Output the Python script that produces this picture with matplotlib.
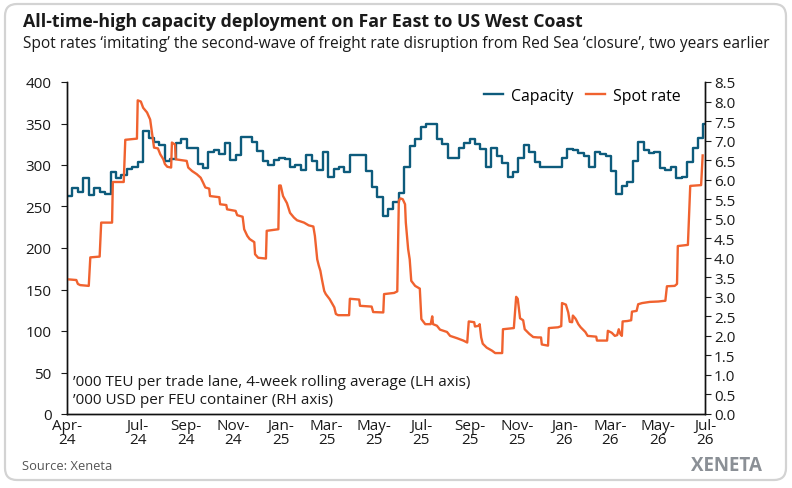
import matplotlib
matplotlib.use("Agg")
import matplotlib.pyplot as plt
from matplotlib.patches import FancyBboxPatch
import numpy as np
import pandas as pd

plt.rcParams['font.family'] = ['Open Sans', 'DejaVu Sans']

# Capacity, '000 TEU, weekly from 1 Apr 2024 (4-week rolling average)
capacity = [263, 272, 267, 284, 264, 272, 268, 265, 291, 284,
            288, 295, 297, 304, 341, 333, 328, 324, 305, 307,
            327, 331, 321, 320, 301, 296, 316, 318, 313, 326,
            306, 312, 334, 334, 328, 317, 305, 300, 306, 308,
            307, 298, 300, 294, 312, 305, 294, 316, 286, 295,
            298, 291, 312, 312, 312, 293, 273, 262, 239, 247,
            256, 266, 298, 323, 331, 346, 350, 350, 331, 325,
            308, 308, 320, 327, 331, 325, 319, 297, 320, 311,
            303, 286, 292, 308, 324, 316, 304, 298, 298, 298,
            298, 309, 319, 318, 314, 311, 298, 316, 313, 311,
            293, 265, 275, 279, 305, 328, 318, 314, 316, 296,
            294, 298, 284, 286, 304, 320, 332, 350]

# Spot rate, '000 USD/FEU, days since 1 Apr 2024
spot_day = [0, 12, 14, 17, 28, 30, 42, 44, 58, 59, 73, 75, 90, 91, 95, 98,
            103, 107, 109, 112, 117, 120, 124, 126, 129, 134, 135, 139, 140,
            154, 156, 161, 167, 172, 175, 178, 183, 184, 196, 197, 205, 206,
            217, 219, 226, 228, 232, 235, 241, 242, 246, 256, 257, 272, 273,
            275, 278, 283, 287, 292, 296, 305, 311, 317, 319, 322, 324, 326,
            328, 331, 333, 338, 344, 346, 349, 363, 364, 376, 377, 392, 394,
            407, 408, 421, 425, 427, 429, 432, 435, 436, 439, 441, 443, 448,
            454, 456, 461, 468, 470, 471, 476, 480, 489, 493, 502, 510, 515,
            517, 524, 525, 530, 531, 533, 535, 540, 547, 551, 560, 561, 575,
            578, 580, 583, 587, 589, 595, 600, 606, 610, 611, 619, 620, 632,
            636, 637, 642, 645, 647, 650, 651, 654, 655, 658, 661, 667, 670,
            681, 682, 695, 696, 701, 705, 708, 710, 712, 714, 715, 721, 726,
            727, 733, 735, 740, 750, 761, 770, 772, 782, 785, 786, 799, 802,
            816, 818]
spot_rate = [3.45, 3.43, 3.33, 3.30, 3.28, 4.01, 4.03, 4.90, 4.90, 5.94, 5.94,
             7.02, 7.05, 8.03, 8.00, 7.84, 7.72, 7.54, 7.25, 6.82, 6.80, 6.65,
             6.52, 6.40, 6.33, 6.31, 6.95, 6.90, 6.52, 6.48, 6.31, 6.22, 6.14,
             6.05, 5.93, 5.80, 5.77, 5.58, 5.55, 5.37, 5.35, 5.24, 5.20, 5.09,
             5.05, 4.73, 4.56, 4.48, 4.40, 4.09, 4.00, 3.98, 4.69, 4.73, 5.85,
             5.85, 5.58, 5.40, 5.15, 5.03, 4.96, 4.90, 4.83, 4.80, 4.56, 3.96,
             3.80, 3.67, 3.45, 3.15, 3.07, 2.94, 2.73, 2.56, 2.53, 2.53, 2.95,
             2.93, 2.77, 2.75, 2.61, 2.60, 3.07, 3.10, 3.14, 5.46, 5.52, 5.50,
             5.37, 4.90, 4.22, 3.96, 3.41, 3.28, 3.21, 2.43, 2.30, 2.30, 2.50,
             2.30, 2.26, 2.16, 2.10, 2.00, 1.94, 1.88, 1.83, 2.37, 2.35, 2.24,
             2.26, 2.30, 1.96, 1.80, 1.70, 1.62, 1.56, 1.56, 2.17, 2.20, 3.00,
             2.95, 2.45, 2.40, 2.17, 2.05, 1.97, 1.96, 1.96, 1.78, 1.75, 2.20,
             2.22, 2.25, 2.84, 2.80, 2.60, 2.36, 2.35, 2.52, 2.45, 2.42, 2.30,
             2.22, 2.10, 2.00, 1.98, 1.88, 1.88, 2.13, 2.08, 2.00, 2.02, 2.17,
             2.05, 2.00, 2.37, 2.38, 2.40, 2.62, 2.64, 2.81, 2.84, 2.87, 2.88,
             2.90, 3.27, 3.28, 3.33, 4.30, 4.33, 5.84, 5.86, 6.62]

tick_months = ['2024-04-01', '2024-07-01', '2024-09-01', '2024-11-01',
               '2025-01-01', '2025-03-01', '2025-05-01', '2025-07-01',
               '2025-09-01', '2025-11-01', '2026-01-01', '2026-03-01',
               '2026-05-01', '2026-07-01']

start = pd.Timestamp('2024-04-01')
cap_dates = pd.date_range(start, periods=len(capacity) + 1, freq='7D')
cap_vals = capacity + [capacity[-1]]
spot_dates = start + pd.to_timedelta(spot_day, unit='D')
ticks = pd.to_datetime(tick_months)
tick_labels = [d.strftime('%b-\n%y') for d in ticks]

blue = '#0d5b7c'
orange = '#f0622f'

fig = plt.figure(figsize=(7.92, 4.89), dpi=100)

# background card + panel, in pixel coordinates
bg = fig.add_axes([0, 0, 1, 1], zorder=-1)
bg.set_xlim(0, 792)
bg.set_ylim(489, 0)
bg.axis('off')
bg.add_patch(FancyBboxPatch((5, 5), 781, 476, boxstyle='round,pad=0,rounding_size=12',
                            fc='white', ec='#d3d3d3', lw=1.6))
grad = np.array([[[0.965, 0.978, 0.992], [0.945, 0.963, 0.984]],
                 [[0.945, 0.963, 0.984], [0.925, 0.948, 0.978]]])
bg.imshow(grad, extent=(25, 764, 451, 67), interpolation='bilinear', aspect='auto')
bg.set_xlim(0, 792)
bg.set_ylim(489, 0)

bg.text(23, 22, 'All-time-high capacity deployment on Far East to US West Coast',
        fontsize=12.8, fontweight='bold', color='#1a1a1a', va='center')
bg.text(23, 44, 'Spot rates \u2018imitating\u2019 the second-wave of freight rate disruption '
        'from Red Sea \u2018closure\u2019, two years earlier',
        fontsize=11.2, color='#1a1a1a', va='center')
bg.text(73, 383, '\u2019000 TEU per trade lane, 4-week rolling average (LH axis)',
        fontsize=11, color='#1a1a1a', va='center')
bg.text(73, 400, '\u2019000 USD per FEU container (RH axis)',
        fontsize=11, color='#1a1a1a', va='center')
bg.text(22, 466, 'Source: Xeneta', fontsize=9.3, color='#555555', va='center')
bg.text(762, 466, 'XENETA', fontsize=13.5, color='#8b9096', va='center', ha='right',
        fontweight='bold')

ax = fig.add_axes([67 / 792, 1 - 415 / 489, 638 / 792, 332 / 489])
ax.set_facecolor('none')
ax2 = ax.twinx()

l1, = ax.plot(cap_dates, cap_vals, drawstyle='steps-post', color=blue, lw=1.7,
              label='Capacity')
l2, = ax2.plot(spot_dates, spot_rate, color=orange, lw=1.7, label='Spot rate')

ax.set_xlim(ticks[0], ticks[-1])
ax.set_ylim(0, 400)
ax.set_yticks(np.arange(0, 401, 50))
ax2.set_ylim(0, 8.5)
ax2.set_yticks(np.arange(0, 8.51, 0.5))
ax2.set_yticklabels([f'{v:.1f}' for v in np.arange(0, 8.51, 0.5)])
ax.set_xticks(ticks)
ax.set_xticklabels(tick_labels, linespacing=0.9)

for a in (ax, ax2):
    a.spines['top'].set_visible(False)
    for s in a.spines.values():
        s.set_linewidth(1.0)
        s.set_color('#111111')
ax.tick_params(axis='x', length=0, pad=3, labelsize=11, colors='#1a1a1a')
ax.tick_params(axis='y', length=4, pad=7, labelsize=11, colors='#1a1a1a')
ax2.tick_params(axis='y', length=4, pad=2.5, labelsize=11, colors='#1a1a1a')

fig.legend(handles=[l1, l2], loc='center', bbox_to_anchor=(582 / 792, 1 - 97 / 489),
           ncol=2, frameon=False, fontsize=11.4, handlelength=1.2,
           handletextpad=0.5, columnspacing=0.8)

fig.savefig('out.png', dpi=100)
